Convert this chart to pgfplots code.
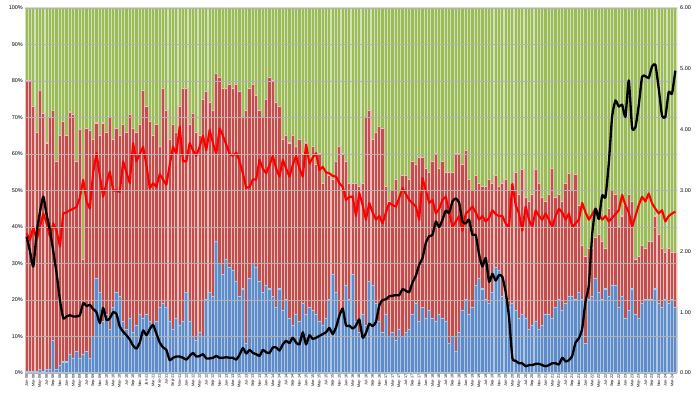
\documentclass[border=0pt]{standalone}
\usepackage{fontspec}
\setmainfont{Liberation Sans}
\usepackage{pgfplots}
\usepackage{pgfplotstable}
\pgfplotsset{compat=1.18}
\definecolor{xgreen}{HTML}{9BBB59}
\definecolor{xgreenl}{HTML}{D3E2B6}
\definecolor{xred}{HTML}{C0504D}
\definecolor{xredl}{HTML}{EBBCBB}
\definecolor{xblue}{HTML}{5F8CC6}
\definecolor{xbluel}{HTML}{AEC6E5}
\pgfplotstableread{
i g top blue rl bk
0 100 80 0.5 38.3 2.24
1 100 80 0.5 36.4 2.00
2 100 73 0.5 40 1.75
3 100 66 0.5 36.4 2.30
4 100 77.5 1 40 2.65
5 100 71 0.5 43.7 2.90
6 100 63 1 41 2.60
7 100 70 1 37.3 2.35
8 100 72 9 41 2.00
9 100 58 1 39 1.64
10 100 65 2 34.6 1.20
11 100 69 3 43.7 0.90
12 100 65 3 44 0.93
13 100 71.5 5 44.6 0.95
14 100 70.7 4 45 0.93
15 100 58 6 45.5 0.93
16 100 66.6 4 48 0.95
17 100 31 5 52.9 1.15
18 100 67 6 47 1.10
19 100 66.5 4 45 1.12
20 100 64 10 55 1.05
21 100 68.5 26 60.2 1.00
22 100 65 22 54 0.82
23 100 68.5 14 48.3 1.07
24 100 66 16 52 0.87
25 100 70 12 55.2 0.90
26 100 64 18 50 1.00
27 100 67 22 50 0.97
28 100 65 21 49.6 0.76
29 100 68 14 58 0.68
30 100 66 12 55 0.62
31 100 70.7 15 52 0.55
32 100 67 11 63 0.45
33 100 66 13 58 0.40
34 100 68 16 60 0.50
35 100 77.5 15 62 0.70
36 100 73 16 57 0.62
37 100 69 14 50.6 0.72
38 100 65 13 52 0.79
39 100 68 14 51 0.65
40 100 62 18 54.5 0.50
41 100 78 19 53 0.42
42 100 72 18 51.5 0.38
43 100 64 14 57 0.21
44 100 68 12 62 0.25
45 100 66 15 60 0.27
46 100 73 13 67.5 0.27
47 100 78 14 58 0.25
48 100 78 22 58 0.22
49 100 68 14 63 0.28
50 100 71 10 61 0.33
51 100 66 9 59.5 0.27
52 100 65 11 62 0.28
53 100 75 10 65 0.31
54 100 77 20 61 0.24
55 100 74 22 66.6 0.24
56 100 72 21 63 0.25
57 100 82 36 60 0.28
58 100 81 30 67 0.25
59 100 78 27 65 0.25
60 100 78 31 62.6 0.26
61 100 79 29 60 0.25
62 100 78 28 59.5 0.25
63 100 79 25 60.4 0.22
64 100 77 21 58 0.30
65 100 70 23 54.7 0.41
66 100 72 8 50.7 0.32
67 100 78 26 51 0.38
68 100 79 30 53 0.33
69 100 76 29 53 0.31
70 100 72 25 58.4 0.28
71 100 70 22 56 0.38
72 100 75 24 54.7 0.34
73 100 81 23 57 0.33
74 100 80 21 59.5 0.42
75 100 74 18 56 0.42
76 100 73 23 53.8 0.37
77 100 64 17 58.4 0.47
78 100 65 20 56 0.53
79 100 63 15 53.8 0.49
80 100 65 13 57 0.58
81 100 62 16 59.5 0.50
82 100 64 14 56 0.47
83 100 60 19 53.8 0.67
84 100 63 16 62.6 0.47
85 100 58 18 57.4 0.62
86 100 62 17 59 0.56
87 100 57 16 60.2 0.58
88 100 60 14 55.6 0.61
89 100 52 13 56.5 0.64
90 100 55 15 55 0.67
91 100 54 20 54.7 0.74
92 100 53 27 54 0.64
93 100 58 22 53.8 0.75
94 100 62 15 52 0.94
95 100 60 17 51 1.06
96 100 58 24 47.4 0.78
97 100 52 20 48.3 0.78
98 100 52 27 48.3 0.73
99 100 52 14 43 0.78
100 100 51 11 49.3 0.88
101 100 52 16 46 0.58
102 100 70 13 42 0.66
103 100 72 25 46.6 0.81
104 100 64 24 44 0.77
105 100 66 19 42 0.84
106 100 67.5 14 43 1.11
107 100 67 11 41 1.20
108 100 51 16 44 1.21
109 100 47 10 46.6 1.26
110 100 50 11 46 1.27
111 100 53 9 45.6 1.28
112 100 48 12 48 1.28
113 100 54 10 50.7 1.38
114 100 54 11 49 1.35
115 100 53 12 47.4 1.33
116 100 58 16 46.5 1.49
117 100 57 19 45.6 1.60
118 100 59 14 42 1.78
119 100 59 18 53.4 1.89
120 100 56 15 50 2.14
121 100 55 17 46.6 2.25
122 100 58 15 47.4 2.27
123 100 60 14 43.7 2.49
124 100 56 16 45 2.40
125 100 58 15 47.4 2.52
126 100 55 14 48.3 2.67
127 100 55 8 44 2.63
128 100 55 10 40 2.82
129 100 60 6 41.5 2.87
130 100 60 11 43 2.80
131 100 57 17 39 2.49
132 100 61 20 43.7 2.46
133 100 53 16 44.5 2.52
134 100 50 18 45.6 2.27
135 100 54 24 44 2.27
136 100 52 26 42 1.95
137 100 51 23 43 1.75
138 100 51 20 41.5 1.89
139 100 53 19 42.5 1.50
140 100 52 22 44.6 1.63
141 100 54 29 43.5 1.52
142 100 51 28 43 1.61
143 100 52 21 43 1.58
144 100 53 20 41 1.33
145 100 50 18 40 0.92
146 100 52 19 51.8 0.25
147 100 55 17 46 0.20
148 100 49 15 43.7 0.16
149 100 55.7 16 39 0.16
150 100 48 15 45.6 0.11
151 100 47 12 42 0.13
152 100 49 13 40 0.13
153 100 55.7 14 44.6 0.15
154 100 51.8 12 43 0.15
155 100 48 13 42 0.13
156 100 47 16 43.7 0.11
157 100 49 16 42 0.13
158 100 56 15 40 0.16
159 100 48 18 43 0.16
160 100 49 20 45 0.14
161 100 47 17 44 0.25
162 100 52 19 42 0.19
163 100 54.7 21 43.7 0.21
164 100 50 21 40 0.28
165 100 54.5 20 41 0.50
166 100 46 22 42 0.57
167 100 35 20 46.6 0.73
168 100 32 8 44 1.18
169 100 34 20 42 1.44
170 100 34 21 43.5 2.28
171 100 37 26 45 2.70
172 100 38 22 43.5 2.53
173 100 36 20 42 2.92
174 100 34 23 43 2.89
175 100 45 21 41.5 3.45
176 100 50 24 42.5 4.22
177 100 49 24 43.5 4.48
178 100 40 18 44.6 4.38
179 100 43 21 48.8 4.41
180 100 46 15 46 4.21
181 100 49 17 44 4.81
182 100 47 23 40 4.03
183 100 31 16 43 4.04
184 100 32 15 46 4.40
185 100 35 19 48.3 4.87
186 100 34 20 47 4.88
187 100 36 20 49.2 4.85
188 100 36 20 46.5 5.04
189 100 43 23 45 5.07
190 100 38 19 43.7 4.68
191 100 34 18 44.6 4.23
192 100 33 20 41.5 4.21
193 100 34 19 43 4.62
194 100 33 20 43.7 4.59
195 100 33 18 44.2 4.97
}\datatable
\begin{document}
\begin{tikzpicture}
\useasboundingbox (-25bp,-21bp) rectangle (675bp,373bp);
\begin{axis}[
  at={(0,0)}, anchor=south west,
  scale only axis, width=652bp, height=365bp,
  xmin=-0.5, xmax=195.5, ymin=0, ymax=100,
  enlargelimits=false,
  ybar, bar width=1, bar shift=0pt,
  axis line style={draw=none},
  major tick length=0pt,
  ytick={0,10,...,100},
  yticklabel={\pgfmathprintnumber{\tick}\%},
  ymajorgrids, major grid style={gray!60, line width=0.4bp},
  axis on top,
  xtick={0,2,...,194},
  xticklabel={\pgfmathtruncatemacro{\mi}{mod(round(\tick),12)}\pgfmathtruncatemacro{\yi}{8+floor(round(\tick)/12)}\ifcase\mi\relax Jan\or Feb\or Mar\or Apr\or May\or Jun\or Jul\or Aug\or Sep\or Oct\or Nov\or Dec\fi-\ifnum\yi<10 0\fi\yi},
  x tick label style={rotate=90, anchor=east, font=\fontsize{3.8}{4}\selectfont, inner sep=1.5bp},
  y tick label style={font=\fontsize{5.5}{6}\selectfont, inner sep=2bp},
  /pgf/number format/assume math mode=true,
]
\addplot[fill=xgreen, draw=xgreenl, line width=1.1bp] table[x=i,y=g]{\datatable};
\addplot[fill=xred, draw=xredl, line width=1.1bp] table[x=i,y=top]{\datatable};
\addplot[fill=xblue, draw=xbluel, line width=1.1bp] table[x=i,y=blue]{\datatable};
\addplot[sharp plot, draw=red, line width=2.1bp, line join=round] table[x=i,y=rl]{\datatable};
\end{axis}
\begin{axis}[
  at={(0,0)}, anchor=south west,
  scale only axis, width=652bp, height=365bp,
  xmin=-0.5, xmax=195.5, ymin=0, ymax=6,
  enlargelimits=false,
  axis x line=none, axis y line*=right,
  axis line style={draw=none},
  major tick length=0pt,
  ytick={0,1,...,6},
  /pgf/number format/fixed, /pgf/number format/fixed zerofill, /pgf/number format/precision=2,
  y tick label style={font=\fontsize{5.5}{6}\selectfont, inner sep=3bp},
  /pgf/number format/assume math mode=true,
]
\addplot[draw=black, line width=2.3bp, smooth, tension=0.3, line join=round] table[x=i,y=bk]{\datatable};
\end{axis}
\end{tikzpicture}
\end{document}
